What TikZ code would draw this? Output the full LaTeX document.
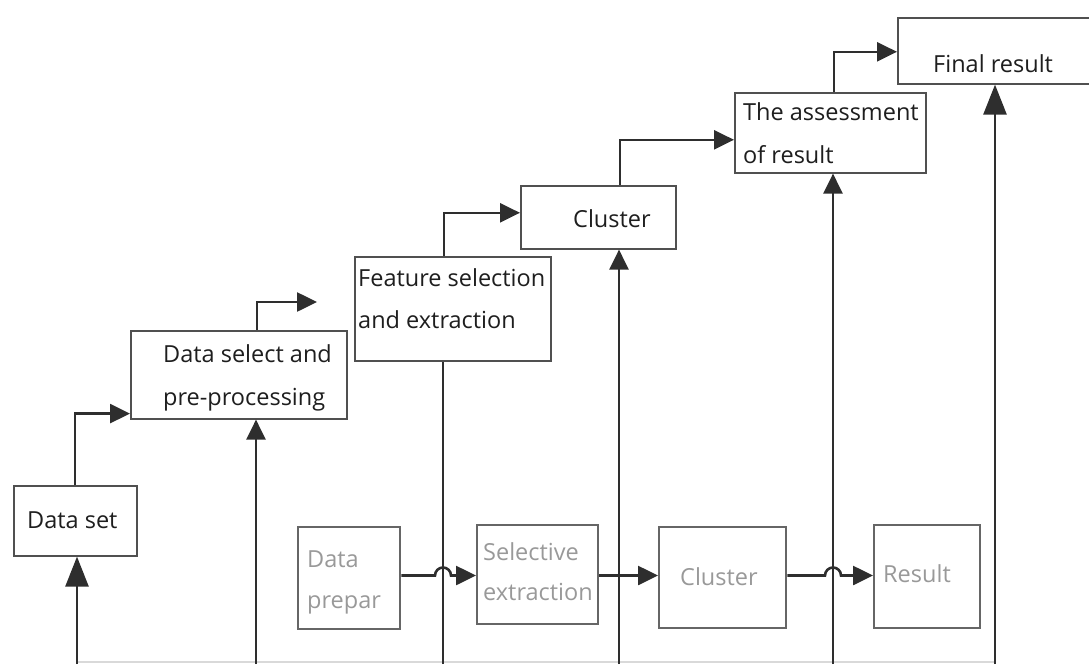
\documentclass[tikz,border=0pt]{standalone}
\usepackage{fontspec}
\setmainfont{Open Sans}
\usetikzlibrary{arrows.meta,calc}
\definecolor{ink}{HTML}{1E1E1E}
\definecolor{boxline}{HTML}{505050}
\definecolor{pale}{HTML}{999999}
\definecolor{paleline}{HTML}{666666}
\definecolor{wire}{HTML}{2E2E2E}
\begin{document}
\begin{tikzpicture}[x=1pt,y=-1pt,
  box/.style={draw=boxline, line width=1.6pt, inner sep=0pt, anchor=north west},
  pbox/.style={draw=paleline, line width=2.4pt, inner sep=0pt, anchor=north west},
  txt/.style={font=\fontsize{23.5}{28}\selectfont, text=ink, inner sep=0pt, anchor=base west},
  ptxt/.style={font=\fontsize{23.5}{28}\selectfont, text=pale, inner sep=0pt, anchor=base west},
  wire/.style={draw=wire, line width=2.6pt},
  arr/.style={wire, -{Triangle[length=20pt,width=19pt]}},
  bigarr/.style={wire, -{Triangle[length=30pt,width=23pt]}},
  floor/.style={draw=black!15, line width=2pt}]
\useasboundingbox (0,0) rectangle (1089,664);

% main stair of process boxes
\node[box, minimum width=123pt, minimum height=70pt] (ds) at (13,485) {};
\node[txt] (ds-t) at (27,528) {Data set};

\node[box, minimum width=216pt, minimum height=88pt] (dsel) at (130,330) {};
\node[txt] (dsel-t1) at (163,362) {Data select and};
\node[txt] (dsel-t2) at (163,405) {pre-processing};

\node[box, minimum width=196pt, minimum height=104pt] (fs) at (354,256) {};
\node[txt] (fs-t1) at (358,286) {Feature selection};
\node[txt] (fs-t2) at (358,328) {and extraction};

\node[box, minimum width=155pt, minimum height=63pt] (cl) at (520,185) {};
\node[txt] (cl-t) at (573,227) {Cluster};

\node[box, minimum width=191pt, minimum height=80pt] (as) at (734,92) {};
\node[txt] (as-t1) at (743,120) {The assessment};
\node[txt] (as-t2) at (743,163) {of result};

\node[box, minimum width=194pt, minimum height=66pt] (fr) at (897,17) {};
\node[txt] (fr-t) at (933,72) {Final result};

% lower row of pale boxes
\node[pbox, minimum width=102pt, minimum height=102pt] (dp) at (297,526) {};
\node[ptxt] (dp-t1) at (307,567) {Data};
\node[ptxt] (dp-t2) at (307,608) {prepar};

\node[pbox, minimum width=121pt, minimum height=99pt] (se) at (476,524) {};
\node[ptxt] (se-t1) at (483,560) {Selective};
\node[ptxt] (se-t2) at (483,600) {extraction};

\node[pbox, minimum width=127pt, minimum height=101pt] (lc) at (658,526) {};
\node[ptxt] (lc-t) at (680,585) {Cluster};

\node[pbox, minimum width=106pt, minimum height=103pt] (rs) at (873,524) {};
\node[ptxt] (rs-t) at (883,582) {Result};

% ground line and feet of the risers
\coordinate (g1) at (77,664);
\coordinate (g2) at (256,664);
\coordinate (g3) at (443,664);
\coordinate (g4) at (619,664);
\coordinate (g5) at (833,664);
\coordinate (g6) at (995,664);
\draw[floor] (77,662) -- (995,662);

% risers from the ground into each box
\draw[bigarr] (g1) -- (g1 |- ds.south);
\draw[arr] (g2) -- (g2 |- dsel.south);
\draw[wire] (g3) -- (g3 |- fs.south);
\draw[arr] (g4) -- (g4 |- cl.south);
\draw[arr] (g5) -- (g5 |- as.south);
\draw[bigarr] (g6) -- (g6 |- fr.south);

% step connectors between the stair boxes
\coordinate (open) at (317,302);
\draw[arr] ([xshift=-0.5pt]ds.north) |- ([yshift=6pt]dsel.south west);
\draw[arr] ([xshift=18pt]dsel.north) |- (open);
\draw[arr] ([xshift=-9pt]fs.north) |- ([yshift=4.5pt]cl.west);
\draw[arr] ([xshift=21.5pt]cl.north) |- ([yshift=-7pt]as.west);
\draw[arr] ([xshift=3.5pt]as.north) |- ([yshift=-1pt]fr.west);

% lower row flow, hopping over the risers
\coordinate (row) at (0,575.5);
\draw[arr] (dp.east |- row) -- (435,575.5) arc[start angle=180, end angle=360, radius=8] -- (se.west |- row);
\draw[arr] (se.east |- row) -- (lc.west |- row);
\draw[arr] (lc.east |- row) -- (825,575.5) arc[start angle=180, end angle=360, radius=8] -- (rs.west |- row);
\end{tikzpicture}
\end{document}
